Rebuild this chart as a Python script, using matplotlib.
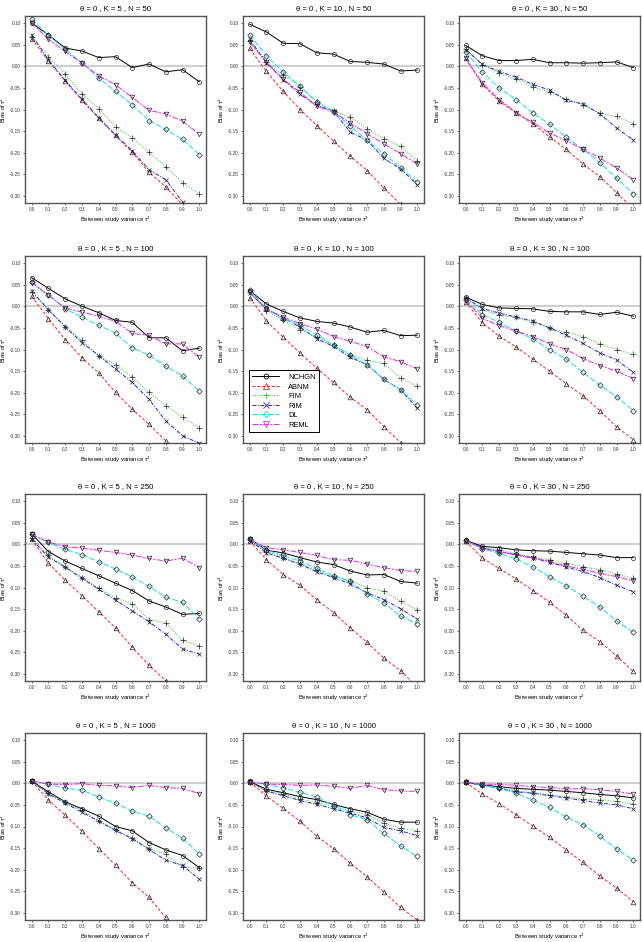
import matplotlib
matplotlib.use("Agg")
import matplotlib.pyplot as plt
from matplotlib.lines import Line2D

plt.rcParams["font.family"] = ["Liberation Sans", "DejaVu Sans"]

# between-study variance grid
tau2 = [0.0, 0.1, 0.2, 0.3, 0.4, 0.5, 0.6, 0.7, 0.8, 0.9, 1.0]
methods = ["NCHGN", "ABNM", "FIM", "RIM", "DL", "REML"]
K_values = [5, 10, 30]
N_values = [50, 100, 250, 1000]

# bias of tau^2, one dict per (K, N) scenario
bias_k5_n50 = {
    "NCHGN": [0.100, 0.072, 0.042, 0.035, 0.020, 0.022, -0.003, 0.005, -0.013, -0.008, -0.036],
    "ABNM": [0.063, 0.012, -0.034, -0.079, -0.120, -0.160, -0.199, -0.245, -0.279, -0.320, -0.360],
    "FIM": [0.068, 0.022, -0.018, -0.065, -0.098, -0.140, -0.165, -0.199, -0.232, -0.269, -0.295],
    "RIM": [0.072, 0.015, -0.033, -0.076, -0.119, -0.159, -0.195, -0.239, -0.262, -0.314, -0.350],
    "DL": [0.109, 0.071, 0.039, 0.008, -0.028, -0.058, -0.089, -0.126, -0.146, -0.169, -0.204],
    "REML": [0.100, 0.062, 0.034, 0.007, -0.022, -0.043, -0.072, -0.102, -0.110, -0.127, -0.157],
}
bias_k10_n50 = {
    "NCHGN": [0.097, 0.079, 0.053, 0.052, 0.031, 0.028, 0.011, 0.009, 0.005, -0.011, -0.009],
    "ABNM": [0.041, -0.012, -0.058, -0.100, -0.137, -0.173, -0.208, -0.241, -0.281, -0.319, -0.360],
    "FIM": [0.058, 0.010, -0.021, -0.047, -0.082, -0.103, -0.118, -0.145, -0.167, -0.185, -0.219],
    "RIM": [0.062, 0.008, -0.031, -0.065, -0.090, -0.104, -0.152, -0.171, -0.213, -0.237, -0.274],
    "DL": [0.073, 0.023, -0.013, -0.046, -0.083, -0.105, -0.138, -0.171, -0.202, -0.234, -0.268],
    "REML": [0.055, 0.009, -0.030, -0.060, -0.093, -0.105, -0.131, -0.156, -0.179, -0.202, -0.226],
}
bias_k30_n50 = {
    "NCHGN": [0.048, 0.024, 0.013, 0.013, 0.016, 0.008, 0.008, 0.007, 0.008, 0.010, -0.003],
    "ABNM": [0.018, -0.042, -0.081, -0.107, -0.133, -0.163, -0.192, -0.226, -0.255, -0.292, -0.330],
    "FIM": [0.040, 0.003, -0.015, -0.030, -0.048, -0.060, -0.076, -0.089, -0.109, -0.116, -0.133],
    "RIM": [0.038, 0.004, -0.012, -0.025, -0.042, -0.055, -0.079, -0.087, -0.110, -0.143, -0.170],
    "DL": [0.033, -0.014, -0.050, -0.077, -0.108, -0.134, -0.164, -0.192, -0.223, -0.258, -0.295],
    "REML": [0.018, -0.039, -0.077, -0.107, -0.130, -0.154, -0.172, -0.192, -0.212, -0.235, -0.262],
}
bias_k5_n100 = {
    "NCHGN": [0.066, 0.041, 0.017, 0.000, -0.015, -0.033, -0.037, -0.073, -0.073, -0.103, -0.097],
    "ABNM": [0.023, -0.029, -0.077, -0.119, -0.154, -0.199, -0.238, -0.273, -0.311, -0.350, -0.390],
    "FIM": [0.033, -0.009, -0.047, -0.079, -0.115, -0.135, -0.164, -0.199, -0.230, -0.256, -0.281],
    "RIM": [0.035, -0.008, -0.048, -0.084, -0.114, -0.145, -0.176, -0.215, -0.265, -0.299, -0.317],
    "DL": [0.056, 0.026, -0.006, -0.025, -0.044, -0.062, -0.096, -0.113, -0.139, -0.161, -0.196],
    "REML": [0.054, 0.025, -0.004, -0.014, -0.023, -0.035, -0.063, -0.067, -0.087, -0.087, -0.118],
}
bias_k10_n100 = {
    "NCHGN": [0.036, 0.005, -0.012, -0.027, -0.035, -0.039, -0.048, -0.060, -0.056, -0.068, -0.067],
    "ABNM": [0.020, -0.034, -0.072, -0.108, -0.143, -0.176, -0.210, -0.239, -0.278, -0.315, -0.350],
    "FIM": [0.033, -0.010, -0.032, -0.054, -0.072, -0.089, -0.112, -0.125, -0.132, -0.166, -0.185],
    "RIM": [0.031, -0.006, -0.027, -0.048, -0.075, -0.093, -0.118, -0.135, -0.169, -0.193, -0.236],
    "DL": [0.037, -0.006, -0.029, -0.044, -0.066, -0.090, -0.113, -0.135, -0.169, -0.193, -0.228],
    "REML": [0.032, -0.007, -0.025, -0.040, -0.053, -0.070, -0.081, -0.093, -0.117, -0.128, -0.145],
}
bias_k30_n100 = {
    "NCHGN": [0.021, 0.004, -0.004, -0.005, -0.006, -0.012, -0.013, -0.013, -0.019, -0.014, -0.023],
    "ABNM": [0.010, -0.039, -0.069, -0.094, -0.122, -0.150, -0.179, -0.207, -0.241, -0.279, -0.308],
    "FIM": [0.018, -0.009, -0.020, -0.026, -0.037, -0.051, -0.060, -0.070, -0.087, -0.100, -0.111],
    "RIM": [0.019, -0.005, -0.016, -0.025, -0.034, -0.050, -0.067, -0.086, -0.108, -0.124, -0.153],
    "DL": [0.015, -0.020, -0.037, -0.058, -0.075, -0.100, -0.122, -0.153, -0.182, -0.209, -0.241],
    "REML": [0.014, -0.028, -0.045, -0.057, -0.070, -0.087, -0.100, -0.121, -0.137, -0.150, -0.167],
}
bias_k5_n250 = {
    "NCHGN": [0.024, -0.017, -0.039, -0.056, -0.073, -0.090, -0.107, -0.131, -0.145, -0.162, -0.160],
    "ABNM": [0.011, -0.044, -0.083, -0.119, -0.156, -0.193, -0.238, -0.280, -0.315, -0.350, -0.390],
    "FIM": [0.015, -0.026, -0.052, -0.077, -0.101, -0.124, -0.137, -0.174, -0.182, -0.222, -0.235],
    "RIM": [0.012, -0.030, -0.053, -0.079, -0.104, -0.129, -0.154, -0.179, -0.208, -0.242, -0.254],
    "DL": [0.023, 0.004, -0.012, -0.024, -0.041, -0.057, -0.076, -0.097, -0.123, -0.134, -0.173],
    "REML": [0.023, 0.005, -0.006, -0.009, -0.014, -0.019, -0.025, -0.033, -0.039, -0.032, -0.054],
}
bias_k10_n250 = {
    "NCHGN": [0.013, -0.014, -0.020, -0.031, -0.041, -0.047, -0.062, -0.071, -0.070, -0.086, -0.090],
    "ABNM": [0.008, -0.036, -0.070, -0.095, -0.128, -0.158, -0.193, -0.227, -0.263, -0.292, -0.330],
    "FIM": [0.011, -0.017, -0.031, -0.045, -0.060, -0.074, -0.084, -0.101, -0.108, -0.132, -0.152],
    "RIM": [0.009, -0.020, -0.033, -0.046, -0.064, -0.077, -0.092, -0.112, -0.128, -0.149, -0.173],
    "DL": [0.013, -0.014, -0.026, -0.039, -0.056, -0.073, -0.086, -0.115, -0.135, -0.166, -0.184],
    "REML": [0.011, -0.008, -0.013, -0.019, -0.026, -0.036, -0.037, -0.046, -0.054, -0.061, -0.063],
}
bias_k30_n250 = {
    "NCHGN": [0.009, -0.005, -0.008, -0.013, -0.015, -0.016, -0.019, -0.022, -0.025, -0.031, -0.031],
    "ABNM": [0.007, -0.032, -0.056, -0.080, -0.107, -0.134, -0.164, -0.199, -0.225, -0.258, -0.294],
    "FIM": [0.008, -0.008, -0.013, -0.022, -0.030, -0.036, -0.044, -0.052, -0.059, -0.069, -0.079],
    "RIM": [0.008, -0.009, -0.017, -0.025, -0.032, -0.042, -0.053, -0.063, -0.077, -0.095, -0.110],
    "DL": [0.009, -0.011, -0.021, -0.034, -0.052, -0.075, -0.096, -0.120, -0.145, -0.177, -0.203],
    "REML": [0.008, -0.009, -0.017, -0.024, -0.031, -0.040, -0.050, -0.058, -0.067, -0.075, -0.085],
}
bias_k5_n1000 = {
    "NCHGN": [0.005, -0.020, -0.043, -0.059, -0.076, -0.100, -0.110, -0.137, -0.154, -0.167, -0.195],
    "ABNM": [0.005, -0.039, -0.074, -0.111, -0.151, -0.189, -0.230, -0.264, -0.310, -0.350, -0.390],
    "FIM": [0.005, -0.023, -0.044, -0.063, -0.087, -0.107, -0.127, -0.151, -0.164, -0.194, -0.196],
    "RIM": [0.005, -0.025, -0.046, -0.067, -0.088, -0.109, -0.128, -0.153, -0.178, -0.190, -0.222],
    "DL": [0.005, -0.002, -0.012, -0.016, -0.032, -0.046, -0.065, -0.076, -0.103, -0.127, -0.164],
    "REML": [0.005, -0.002, -0.003, -0.001, -0.005, -0.006, -0.010, -0.005, -0.010, -0.012, -0.024],
}
bias_k10_n1000 = {
    "NCHGN": [0.004, -0.014, -0.022, -0.031, -0.038, -0.049, -0.059, -0.067, -0.083, -0.090, -0.090],
    "ABNM": [0.003, -0.030, -0.058, -0.088, -0.122, -0.151, -0.185, -0.216, -0.251, -0.287, -0.316],
    "FIM": [0.004, -0.017, -0.025, -0.036, -0.046, -0.053, -0.064, -0.073, -0.092, -0.104, -0.110],
    "RIM": [0.004, -0.018, -0.029, -0.040, -0.049, -0.059, -0.069, -0.080, -0.102, -0.110, -0.121],
    "DL": [0.003, -0.002, -0.011, -0.021, -0.032, -0.052, -0.073, -0.084, -0.116, -0.145, -0.169],
    "REML": [0.003, -0.002, -0.003, -0.005, -0.004, -0.007, -0.012, -0.005, -0.015, -0.018, -0.019],
}
bias_k30_n1000 = {
    "NCHGN": [0.002, -0.004, -0.008, -0.012, -0.014, -0.016, -0.019, -0.022, -0.026, -0.029, -0.034],
    "ABNM": [0.002, -0.025, -0.047, -0.073, -0.099, -0.125, -0.154, -0.183, -0.214, -0.242, -0.274],
    "FIM": [0.002, -0.004, -0.011, -0.017, -0.022, -0.027, -0.031, -0.036, -0.038, -0.042, -0.048],
    "RIM": [0.002, -0.005, -0.012, -0.020, -0.023, -0.029, -0.034, -0.040, -0.046, -0.050, -0.059],
    "DL": [0.002, -0.004, -0.012, -0.023, -0.039, -0.056, -0.078, -0.096, -0.122, -0.152, -0.178],
    "REML": [0.002, -0.002, -0.003, -0.005, -0.008, -0.010, -0.013, -0.013, -0.015, -0.019, -0.025],
}

panels = [
    [bias_k5_n50, bias_k10_n50, bias_k30_n50],
    [bias_k5_n100, bias_k10_n100, bias_k30_n100],
    [bias_k5_n250, bias_k10_n250, bias_k30_n250],
    [bias_k5_n1000, bias_k10_n1000, bias_k30_n1000],
]

colors = {"NCHGN": "black", "ABNM": "#ff2020", "FIM": "#22cc22",
          "RIM": "#2020ee", "DL": "#10e0e8", "REML": "#ee20ee"}
linestyles = {"NCHGN": "-", "ABNM": (0, (3, 2)), "FIM": (0, (1, 1.5)),
              "RIM": (0, (4, 1.5, 1, 1.5)), "DL": (0, (6, 2)),
              "REML": (0, (6, 1.5, 2, 1.5))}
markers = {"NCHGN": "o", "ABNM": "^", "FIM": "+", "RIM": "x", "DL": "D", "REML": "v"}
msizes = {"NCHGN": 3.0, "ABNM": 3.3, "FIM": 4.0, "RIM": 3.5, "DL": 2.8, "REML": 3.3}

W, H = 642, 942
fig = plt.figure(figsize=(W / 100, H / 100), dpi=100)

col_left = [25, 243, 459]
row_top = [16, 256, 494, 733]
ax_w, ax_h = 181, 187

for r, N in enumerate(N_values):
    for c, K in enumerate(K_values):
        left = col_left[c] / W
        bottom = 1 - (row_top[r] + ax_h) / H
        ax = fig.add_axes([left, bottom, ax_w / W, ax_h / H])
        data = panels[r][c]

        ax.axhline(0, color="#cfcfcf", lw=1.5, zorder=1)
        for m in methods:
            ax.plot(tau2, data[m], color=colors[m], ls=linestyles[m], lw=0.7,
                    marker=markers[m], ms=msizes[m], mfc="none", mec="#222222",
                    mew=0.5, zorder=3)

        ax.set_xlim(-0.04, 1.04)
        ax.set_ylim(-0.316, 0.116)
        ax.set_xticks(tau2)
        ax.set_xticklabels([f"{t:.1f}" for t in tau2])
        ax.set_yticks([0.10, 0.05, 0.00, -0.05, -0.10, -0.15, -0.20, -0.25, -0.30])
        ax.set_yticklabels(["0.10", "0.05", "0.00", "-0.05", "-0.10", "-0.15",
                            "-0.20", "-0.25", "-0.30"])
        ax.tick_params(labelsize=3.4, length=1.5, width=0.5, pad=1.5,
                       colors="#333333")
        for sp in ax.spines.values():
            sp.set_color("#555555")
            sp.set_linewidth(1.0)

        ax.set_title(f"θ = 0 , K = {K} , N = {N}", fontsize=5.6, pad=4.5)
        ax.set_xlabel("Between study variance τ$^2$", fontsize=4.2, labelpad=2)
        ax.set_ylabel("Bias of τ$^2$", fontsize=4.2, labelpad=1.5)

        if r == 1 and c == 1:
            handles = [Line2D([0], [0], color=colors[m], ls=linestyles[m], lw=0.7,
                              marker=markers[m], ms=msizes[m] + 0.5, mfc="none",
                              mec=colors[m], mew=0.6) for m in methods]
            leg = ax.legend(handles, methods, loc="lower left",
                            bbox_to_anchor=(0.033, 0.059), borderaxespad=0,
                            fontsize=5.4, fancybox=False, framealpha=1,
                            handlelength=3.6, labelspacing=0.3,
                            borderpad=0.45, handletextpad=1.2)
            leg.get_frame().set_edgecolor("black")
            leg.get_frame().set_linewidth(0.7)

fig.savefig("out.png", dpi=100)
